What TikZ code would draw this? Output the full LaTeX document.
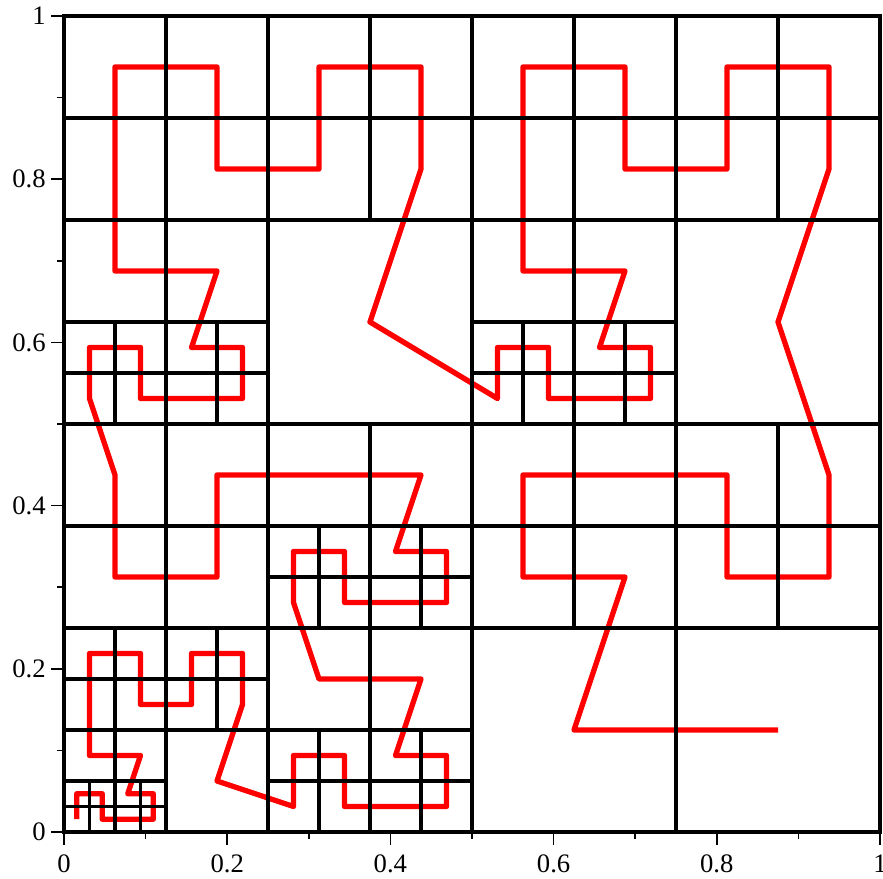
\documentclass[tikz,border=0pt]{standalone}
\usepackage{fontspec}
\setmainfont{Liberation Serif}
\begin{document}
\begin{tikzpicture}[x=612pt,y=612pt,
  gridline/.style={black,line width=2.5pt,line cap=rect},
  curve/.style={red,line width=4pt,line join=round},
  tickline/.style={black,line width=1.1pt},
  ticklabel/.style={inner sep=0pt,font=\fontsize{20}{24}\selectfont}]
\useasboundingbox (-0.078431,-0.057598) rectangle (1.003676,1.019608);
% red curve
\draw[curve] (0.015625,0.015625) -- (0.015625,0.046875) -- (0.046875,0.046875) -- (0.046875,0.015625)
 -- (0.109375,0.015625) -- (0.109375,0.046875) -- (0.078125,0.046875) -- (0.09375,0.09375)
 -- (0.03125,0.09375) -- (0.03125,0.21875) -- (0.09375,0.21875) -- (0.09375,0.15625)
 -- (0.15625,0.15625) -- (0.15625,0.21875) -- (0.21875,0.21875) -- (0.21875,0.15625)
 -- (0.1875,0.0625) -- (0.28125,0.03125) -- (0.28125,0.09375) -- (0.34375,0.09375)
 -- (0.34375,0.03125) -- (0.46875,0.03125) -- (0.46875,0.09375) -- (0.40625,0.09375)
 -- (0.4375,0.1875) -- (0.3125,0.1875) -- (0.28125,0.28125) -- (0.28125,0.34375)
 -- (0.34375,0.34375) -- (0.34375,0.28125) -- (0.46875,0.28125) -- (0.46875,0.34375)
 -- (0.40625,0.34375) -- (0.4375,0.4375) -- (0.1875,0.4375) -- (0.1875,0.3125)
 -- (0.0625,0.3125) -- (0.0625,0.4375) -- (0.03125,0.53125) -- (0.03125,0.59375)
 -- (0.09375,0.59375) -- (0.09375,0.53125) -- (0.21875,0.53125) -- (0.21875,0.59375)
 -- (0.15625,0.59375) -- (0.1875,0.6875) -- (0.0625,0.6875) -- (0.0625,0.9375)
 -- (0.1875,0.9375) -- (0.1875,0.8125) -- (0.3125,0.8125) -- (0.3125,0.9375)
 -- (0.4375,0.9375) -- (0.4375,0.8125) -- (0.375,0.625) -- (0.53125,0.53125)
 -- (0.53125,0.59375) -- (0.59375,0.59375) -- (0.59375,0.53125) -- (0.71875,0.53125)
 -- (0.71875,0.59375) -- (0.65625,0.59375) -- (0.6875,0.6875) -- (0.5625,0.6875)
 -- (0.5625,0.9375) -- (0.6875,0.9375) -- (0.6875,0.8125) -- (0.8125,0.8125)
 -- (0.8125,0.9375) -- (0.9375,0.9375) -- (0.9375,0.8125) -- (0.875,0.625)
 -- (0.9375,0.4375) -- (0.9375,0.3125) -- (0.8125,0.3125) -- (0.8125,0.4375)
 -- (0.5625,0.4375) -- (0.5625,0.3125) -- (0.6875,0.3125) -- (0.625,0.125)
 -- (0.875,0.125);
% grid
\draw[gridline] (0,0) rectangle (1,1);
\foreach \v in {0.25,0.5,0.75}{
  \draw[gridline] (\v,0) -- (\v,1);
  \draw[gridline] (0,\v) -- (1,\v);
}
% level 2
\draw[gridline] (0.125,0) -- (0.125,1);
\draw[gridline] (0.375,0) -- (0.375,0.5);
\draw[gridline] (0.375,0.75) -- (0.375,1);
\draw[gridline] (0.625,0.25) -- (0.625,1);
\draw[gridline] (0.875,0.25) -- (0.875,0.5);
\draw[gridline] (0.875,0.75) -- (0.875,1);
\draw[gridline] (0,0.125) -- (0.5,0.125);
\draw[gridline] (0,0.375) -- (1,0.375);
\draw[gridline] (0,0.875) -- (1,0.875);
\draw[gridline] (0,0.625) -- (0.25,0.625);
\draw[gridline] (0.5,0.625) -- (0.75,0.625);
% level 3
\draw[gridline] (0.0625,0) -- (0.0625,0.25);
\draw[gridline] (0,0.0625) -- (0.125,0.0625);
\draw[gridline] (0,0.1875) -- (0.25,0.1875);
\draw[gridline] (0.1875,0.125) -- (0.1875,0.25);
\draw[gridline] (0.3125,0) -- (0.3125,0.125);
\draw[gridline] (0.4375,0) -- (0.4375,0.125);
\draw[gridline] (0.25,0.0625) -- (0.5,0.0625);
\draw[gridline] (0.3125,0.25) -- (0.3125,0.375);
\draw[gridline] (0.4375,0.25) -- (0.4375,0.375);
\draw[gridline] (0.25,0.3125) -- (0.5,0.3125);
\draw[gridline] (0.0625,0.5) -- (0.0625,0.625);
\draw[gridline] (0.1875,0.5) -- (0.1875,0.625);
\draw[gridline] (0,0.5625) -- (0.25,0.5625);
\draw[gridline] (0.5625,0.5) -- (0.5625,0.625);
\draw[gridline] (0.6875,0.5) -- (0.6875,0.625);
\draw[gridline] (0.5,0.5625) -- (0.75,0.5625);
% level 4
\draw[gridline] (0.03125,0) -- (0.03125,0.0625);
\draw[gridline] (0.09375,0) -- (0.09375,0.0625);
\draw[gridline] (0,0.03125) -- (0.125,0.03125);
% ticks
\foreach \t in {0,0.2,0.4,0.6,0.8,1}{
  \draw[tickline] (\t,0) -- ++(0,-10pt);
  \draw[tickline] (0,\t) -- ++(-10pt,0);
}
\foreach \t in {0.1,0.3,0.5,0.7,0.9}{
  \draw[tickline] (\t,0) -- ++(0,-5pt);
  \draw[tickline] (0,\t) -- ++(-5pt,0);
}
% labels
\node[ticklabel,anchor=center] (x0) at ([yshift=-24pt]0,0) {0};
\node[ticklabel,anchor=center] (x2) at ([yshift=-24pt]0.2,0) {0.2};
\node[ticklabel,anchor=center] (x4) at ([yshift=-24pt]0.4,0) {0.4};
\node[ticklabel,anchor=center] (x6) at ([yshift=-24pt]0.6,0) {0.6};
\node[ticklabel,anchor=center] (x8) at ([yshift=-24pt]0.8,0) {0.8};
\node[ticklabel,anchor=center] (x10) at ([yshift=-24pt]1,0) {1};
\node[ticklabel,anchor=east] (y0) at ([xshift=-13.5pt]0,0) {0};
\node[ticklabel,anchor=east] (y2) at ([xshift=-13.5pt]0,0.2) {0.2};
\node[ticklabel,anchor=east] (y4) at ([xshift=-13.5pt]0,0.4) {0.4};
\node[ticklabel,anchor=east] (y6) at ([xshift=-13.5pt]0,0.6) {0.6};
\node[ticklabel,anchor=east] (y8) at ([xshift=-13.5pt]0,0.8) {0.8};
\node[ticklabel,anchor=east] (y10) at ([xshift=-13.5pt]0,1) {1};
\end{tikzpicture}
\end{document}
